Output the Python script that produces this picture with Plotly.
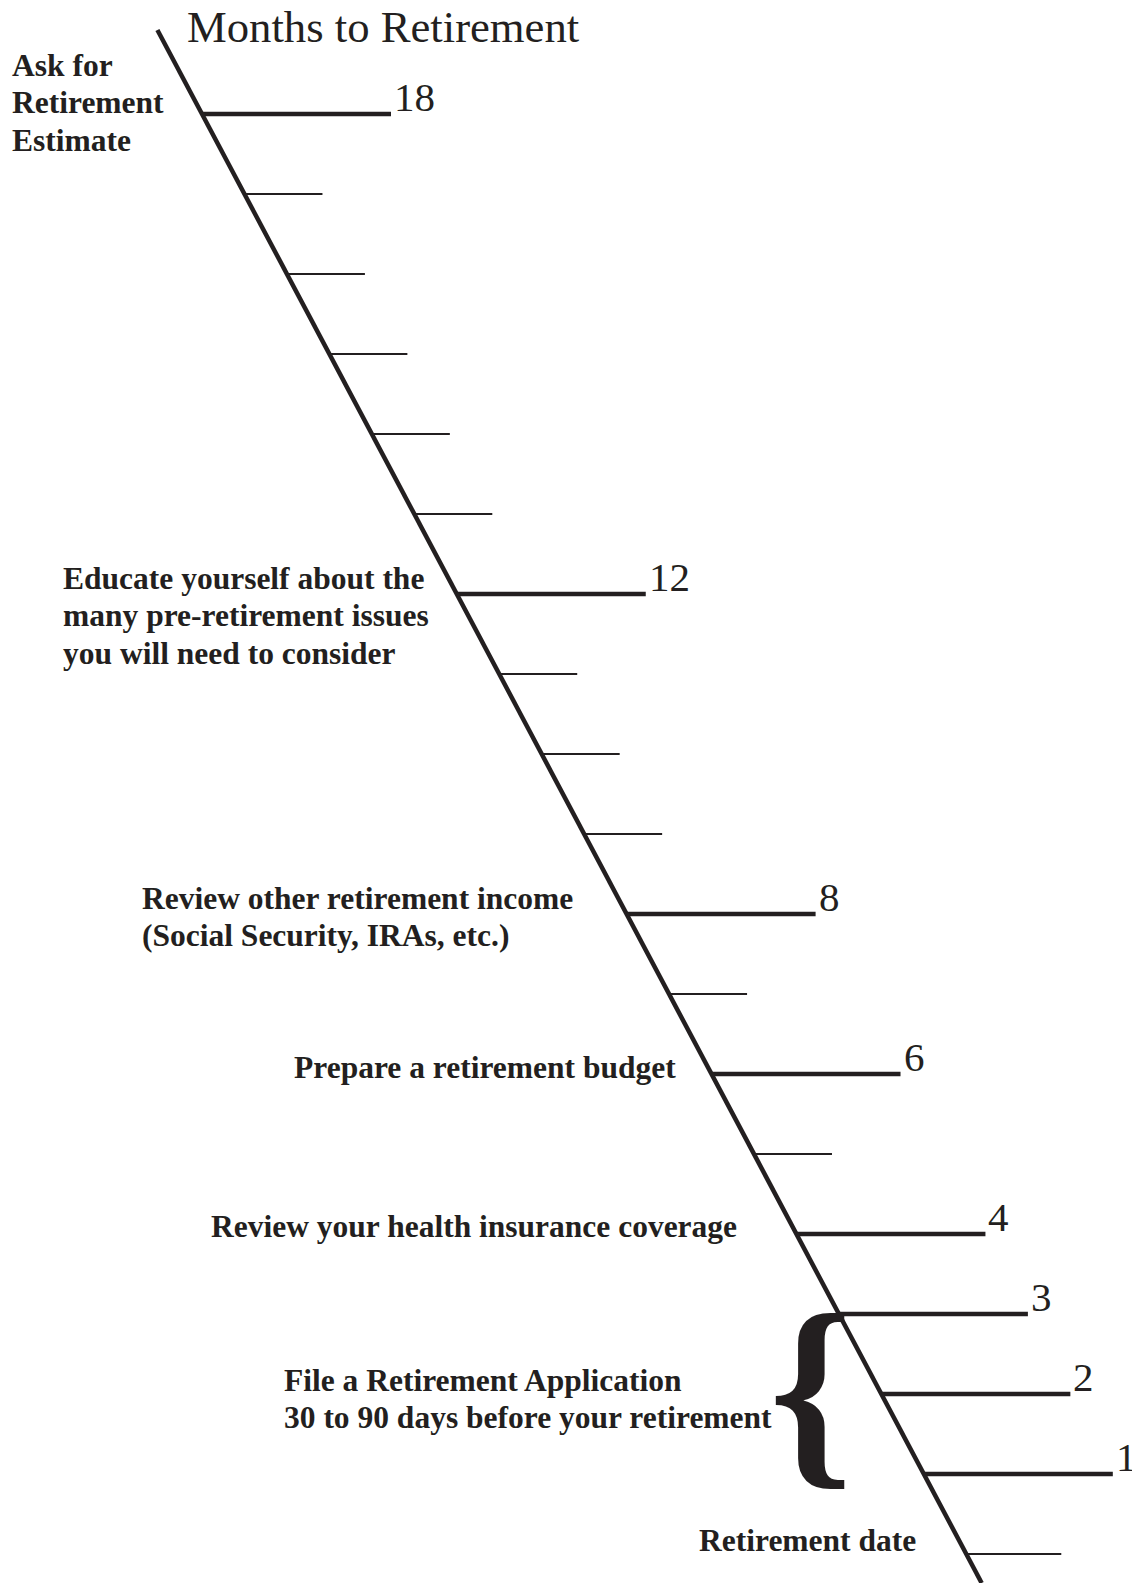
import plotly.graph_objects as go

# ---------------- data ----------------
title_text = "Months to Retirement"
all_months = list(range(18, -1, -1))
labeled_months = [18, 12, 8, 6, 4, 3, 2, 1]
month_labels = ["18", "12", "8", "6", "4", "3", "2", "1"]
retirement_month = 0
retirement_label = "Retirement date"

milestone_months = [18, 12, 8, 6, 4]
milestone_texts = [
    ["Ask for", "Retirement", "Estimate"],
    ["Educate yourself about the", "many pre-retirement issues", "you will need to consider"],
    ["Review other retirement income", "(Social Security, IRAs, etc.)"],
    ["Prepare a retirement budget"],
    ["Review your health insurance coverage"],
]
application_texts = ["File a Retirement Application", "30 to 90 days before your retirement"]
application_span = [3, 1]

# ---------------- geometry / style ----------------
W, H = 1132, 1583
PX_PER_MONTH = 80.0
Y18_PX = 114.0
X18 = 202.0
SLOPE = 42.46           # horizontal shift of the timeline per month
MAJOR_LEN, MINOR_LEN, END_LEN = 189, 78, 95
INK = "#231F20"
SERIF = "Liberation Serif"
BODY_SIZE = 31.5


def line_x(m):
    return X18 + (18 - m) * SLOPE


def px_to_m(py):
    return 18 - (py - Y18_PX) / PX_PER_MONTH


y_top = px_to_m(0)
y_bot = px_to_m(H)
line_top_m = 19.05

fig = go.Figure()

# main diagonal timeline
fig.add_trace(go.Scatter(
    x=[line_x(line_top_m), line_x(y_bot)], y=[line_top_m, y_bot],
    mode="lines", line=dict(color=INK, width=4.5), hoverinfo="skip", showlegend=False))

# ticks
maj_x, maj_y, min_x, min_y = [], [], [], []
for m in all_months:
    x0 = line_x(m)
    if m in labeled_months:
        maj_x += [x0, x0 + MAJOR_LEN, None]
        maj_y += [m, m, None]
    elif m == retirement_month:
        min_x += [x0, x0 + END_LEN, None]
        min_y += [m, m, None]
    else:
        min_x += [x0, x0 + MINOR_LEN, None]
        min_y += [m, m, None]

fig.add_trace(go.Scatter(x=maj_x, y=maj_y, mode="lines",
                         line=dict(color=INK, width=4.5), hoverinfo="skip", showlegend=False))
fig.add_trace(go.Scatter(x=min_x, y=min_y, mode="lines",
                         line=dict(color=INK, width=2.2), hoverinfo="skip", showlegend=False))

annotations = []

# numbers at the ends of major ticks
for m, lab in zip(labeled_months, month_labels):
    annotations.append(dict(
        x=line_x(m) + MAJOR_LEN + 1, y=m, xref="x", yref="y", text=lab,
        xanchor="left", yanchor="middle", yshift=17, showarrow=False,
        font=dict(family=SERIF, size=41, color=INK)))

# title
annotations.append(dict(
    x=185, y=px_to_m(27), xref="x", yref="y", text=title_text,
    xanchor="left", yanchor="middle", showarrow=False,
    font=dict(family=SERIF, size=44.7, color=INK)))

# milestone text placement: (left x, first line center px)
milestone_pos = [(10, 65), (61, 578), (140, 898), (292, 1067), (209, 1226)]
LINE_GAP = 37.5
for (xl, y0), lines in zip(milestone_pos, milestone_texts):
    for i, t in enumerate(lines):
        annotations.append(dict(
            x=xl, y=px_to_m(y0 + i * LINE_GAP), xref="x", yref="y",
            text="<b>%s</b>" % t, xanchor="left", yanchor="middle", showarrow=False,
            font=dict(family=SERIF, size=BODY_SIZE, color=INK)))

# retirement application text
for i, t in enumerate(application_texts):
    annotations.append(dict(
        x=282, y=px_to_m(1380 + i * LINE_GAP), xref="x", yref="y",
        text="<b>%s</b>" % t, xanchor="left", yanchor="middle", showarrow=False,
        font=dict(family=SERIF, size=BODY_SIZE, color=INK)))

# brace spanning months 3..1
brace_mid = (application_span[0] + application_span[1]) / 2.0
annotations.append(dict(
    x=811, y=brace_mid, xref="x", yref="y", text="<b>{</b>",
    xanchor="center", yanchor="middle", yshift=6, showarrow=False,
    font=dict(family=SERIF, size=212, color=INK)))

# retirement date label
annotations.append(dict(
    x=697, y=px_to_m(1540), xref="x", yref="y", text="<b>%s</b>" % retirement_label,
    xanchor="left", yanchor="middle", showarrow=False,
    font=dict(family=SERIF, size=BODY_SIZE, color=INK)))

fig.update_layout(
    width=W, height=H, margin=dict(l=0, r=0, t=0, b=0),
    paper_bgcolor="white", plot_bgcolor="white",
    xaxis=dict(range=[0, W], visible=False, fixedrange=True),
    yaxis=dict(range=[y_bot, y_top], visible=False, fixedrange=True),
    annotations=annotations, showlegend=False)

fig.write_html("out.html", config={"displayModeBar": False},
               post_script="document.body.style.margin='0';document.body.style.padding='0';")
